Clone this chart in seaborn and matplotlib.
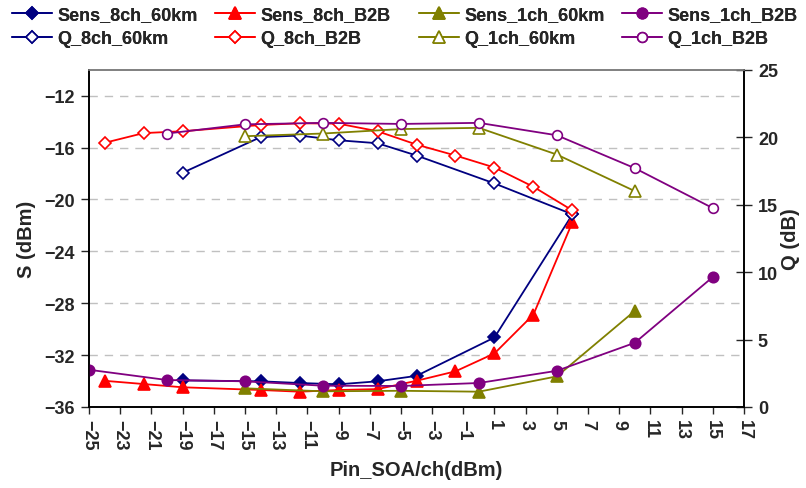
import matplotlib
matplotlib.use("Agg")
import matplotlib.pyplot as plt
import seaborn as sns

# ---- data ----
x_8ch_60km = [-19, -14, -11.5, -9, -6.5, -4, 1, 6]
S_8ch_60km = [-33.95, -34.02, -34.15, -34.25, -34.02, -33.6, -30.64, -21.15]
Q_8ch_60km = [17.36, 20.0, 20.12, 19.77, 19.55, 18.64, 16.57, 14.28]

x_8ch_B2B = [-24, -21.5, -19, -14, -11.5, -9, -6.5, -4, -1.5, 1, 3.5, 6]
S_8ch_B2B = [-33.98, -34.23, -34.48, -34.69, -34.82, -34.69, -34.62, -33.98, -33.25, -31.87, -28.87, -21.75]
Q_8ch_B2B = [19.58, 20.3, 20.44, 20.9, 21.03, 21.0, 20.44, 19.45, 18.64, 17.75, 16.32, 14.57]

x_1ch_60km = [-15, -10, -5, 0, 5, 10]
S_1ch_60km = [-34.56, -34.79, -34.75, -34.82, -33.64, -28.59]
Q_1ch_60km = [20.07, 20.27, 20.6, 20.69, 18.71, 16.0]

x_S_1ch_B2B = [-25, -20, -15, -10, -5, 0, 5, 10, 15]
S_1ch_B2B = [-33.13, -33.92, -34.02, -34.36, -34.38, -34.15, -33.21, -31.05, -25.98]
x_Q_1ch_B2B = [-20, -15, -10, -5, 0, 5, 10, 15]
Q_1ch_B2B = [20.27, 20.95, 21.06, 20.98, 21.06, 20.14, 17.7, 14.74]

x_ticks = list(range(-25, 18, 2))
s_ticks = [-36, -32, -28, -24, -20, -16, -12]
q_ticks = [0, 5, 10, 15, 20, 25]

navy, red, olive, purple = "#000080", "#FF0000", "#808000", "#800080"

sns.set_style("white")
plt.rcParams["font.family"] = ["Liberation Sans", "DejaVu Sans"]
plt.rcParams["font.weight"] = "bold"

fig = plt.figure(figsize=(8.06, 4.89), dpi=100)
ax = fig.add_subplot(111)
fig.subplots_adjust(left=89/806, right=744/806, bottom=1-408/489, top=1-70.7/489)
ax2 = ax.twinx()

lw = 1.3
handles = {}

def draw(axis, x, y, color, marker, ms, filled, name):
    sns.lineplot(x=x, y=y, ax=axis, color=color, marker=marker, markersize=ms,
                 markerfacecolor=color if filled else "white",
                 markeredgecolor=color, markeredgewidth=1.2,
                 linewidth=lw, legend=False, estimator=None, zorder=3)
    handles[name] = axis.lines[-1]

draw(ax, x_8ch_60km, S_8ch_60km, navy, "D", 6, True, "Sens_8ch_60km")
draw(ax, x_8ch_B2B, S_8ch_B2B, red, "^", 8, True, "Sens_8ch_B2B")
draw(ax, x_1ch_60km, S_1ch_60km, olive, "^", 8, True, "Sens_1ch_60km")
draw(ax, x_S_1ch_B2B, S_1ch_B2B, purple, "o", 7.5, True, "Sens_1ch_B2B")

draw(ax2, x_8ch_60km, Q_8ch_60km, navy, "D", 6, False, "Q_8ch_60km")
draw(ax2, x_8ch_B2B, Q_8ch_B2B, red, "D", 6, False, "Q_8ch_B2B")
draw(ax2, x_1ch_60km, Q_1ch_60km, olive, "^", 8, False, "Q_1ch_60km")
draw(ax2, x_Q_1ch_B2B, Q_1ch_B2B, purple, "o", 7, False, "Q_1ch_B2B")

# axes limits / ticks
ax.set_xlim(-25, 17)
ax.set_ylim(-36, -10)
ax2.set_ylim(0, 25)
ax.set_xticks(x_ticks)
ax.set_yticks(s_ticks)
ax2.set_yticks(q_ticks)

ax.yaxis.grid(True, color="#C0C0C0", linestyle=(0, (6, 5)), linewidth=1)
ax.xaxis.grid(False)
ax2.grid(False)
ax.set_axisbelow(True)

tfs = 13
ax.tick_params(axis="x", direction="out", length=5, width=1, labelsize=tfs,
               labelrotation=-90, pad=4, bottom=True)
ax.tick_params(axis="y", direction="out", length=6, width=1, labelsize=tfs, pad=4, left=True)
ax2.tick_params(axis="y", direction="inout", length=12, width=1, labelsize=tfs, pad=4, right=True)
for lab in ax.get_xticklabels() + ax.get_yticklabels() + ax2.get_yticklabels():
    lab.set_fontweight("bold")

for a in (ax, ax2):
    for side in ("left", "bottom", "right"):
        a.spines[side].set_color("black")
        a.spines[side].set_linewidth(1.2)
    a.spines["top"].set_color("#808080")
    a.spines["top"].set_linewidth(1.2)

ax.set_xlabel("Pin_SOA/ch(dBm)", fontsize=14.5, fontweight="bold", labelpad=7)
ax.set_ylabel("S (dBm)", fontsize=14.5, fontweight="bold", labelpad=6)
ax2.set_ylabel("Q (dB)", fontsize=14.5, fontweight="bold", labelpad=2)

# legend: four columns of two rows
cols = [("Sens_8ch_60km", "Q_8ch_60km"), ("Sens_8ch_B2B", "Q_8ch_B2B"),
        ("Sens_1ch_60km", "Q_1ch_60km"), ("Sens_1ch_B2B", "Q_1ch_B2B")]
col_x = [12, 215, 419, 622]
for (a_name, b_name), cx in zip(cols, col_x):
    leg = fig.legend([handles[a_name], handles[b_name]], [a_name, b_name],
                     loc="upper left", bbox_to_anchor=(cx/806, 1-7/489),
                     frameon=False, borderpad=0, borderaxespad=0,
                     handlelength=2.2, handletextpad=0.3, labelspacing=0.38,
                     prop={"size": 13, "weight": "bold"})
    fig.add_artist(leg)

fig.savefig("out.png", dpi=100)
